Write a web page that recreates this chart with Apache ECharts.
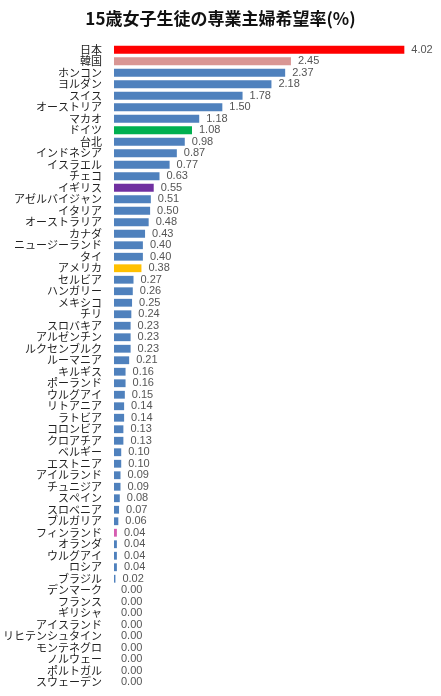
<!DOCTYPE html>
<html>
<head>
<meta charset="utf-8">
<script src="https://cdn.jsdelivr.net/npm/echarts@6/dist/echarts.min.js"></script>
<style>
html,body{margin:0;padding:0;background:#fff;}
#chart{width:441px;height:696px;}
</style>
</head>
<body>
<div id="chart"></div>
<script>
var titleText = '15歳女子生徒の専業主婦希望率(%)';
var categories = ['日本','韓国','ホンコン','ヨルダン','スイス','オーストリア','マカオ','ドイツ','台北','インドネシア','イスラエル','チェコ','イギリス','アゼルバイジャン','イタリア','オーストラリア','カナダ','ニュージーランド','タイ','アメリカ','セルビア','ハンガリー','メキシコ','チリ','スロバキア','アルゼンチン','ルクセンブルク','ルーマニア','キルギス','ポーランド','ウルグアイ','リトアニア','ラトビア','コロンビア','クロアチア','ベルギー','エストニア','アイルランド','チュニジア','スペイン','スロベニア','ブルガリア','フィンランド','オランダ','ウルグアイ','ロシア','ブラジル','デンマーク','フランス','ギリシャ','アイスランド','リヒテンシュタイン','モンテネグロ','ノルウェー','ポルトガル','スウェーデン'];
var values = [4.02,2.45,2.37,2.18,1.78,1.50,1.18,1.08,0.98,0.87,0.77,0.63,0.55,0.51,0.50,0.48,0.43,0.40,0.40,0.38,0.27,0.26,0.25,0.24,0.23,0.23,0.23,0.21,0.16,0.16,0.15,0.14,0.14,0.13,0.13,0.10,0.10,0.09,0.09,0.08,0.07,0.06,0.04,0.04,0.04,0.04,0.02,0.00,0.00,0.00,0.00,0.00,0.00,0.00,0.00,0.00];
var defaultColor = '#4F81BD';
var highlightColors = {'日本':'#FF0000','韓国':'#D99694','ドイツ':'#00B050','イギリス':'#7030A0','アメリカ':'#FFC000','フィンランド':'#D65DB1'};

var chart = echarts.init(document.getElementById('chart'));
var seriesData = values.map(function(v, i){
  var c = highlightColors[categories[i]] || defaultColor;
  return {value: v, itemStyle: {color: c}};
});
chart.setOption({
  animation: false,
  title: {
    text: titleText,
    left: 'center',
    top: 5,
    textStyle: {fontFamily: 'Noto Sans CJK JP', fontSize: 17, fontWeight: 'bold', color: '#111'}
  },
  grid: {left: 111, right: 2, top: 44, bottom: 8, containLabel: false},
  xAxis: {
    type: 'value', min: 0, max: 4.5, show: false
  },
  yAxis: {
    type: 'category',
    inverse: true,
    data: categories,
    axisLine: {show: false},
    axisTick: {show: false},
    splitLine: {show: false},
    axisLabel: {
      interval: 0,
      margin: 12,
      fontFamily: 'Noto Sans CJK JP',
      fontSize: 11,
      color: '#222'
    }
  },
  series: [{
    type: 'bar',
    data: seriesData,
    barCategoryGap: '32%',
    label: {
      show: true,
      position: 'right',
      distance: 7,
      fontFamily: 'Liberation Sans',
      fontSize: 11,
      color: '#555',
      formatter: function(p){ return p.value.toFixed(2); }
    }
  }]
});
</script>
</body>
</html>
